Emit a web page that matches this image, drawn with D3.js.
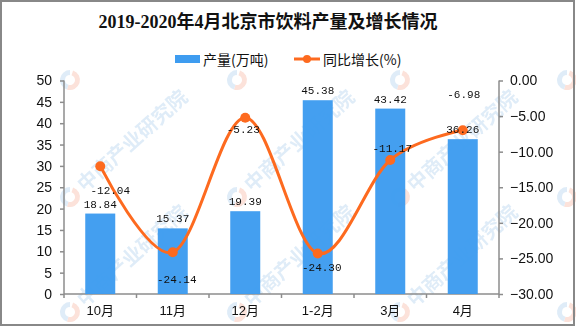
<!DOCTYPE html>
<html><head><meta charset="utf-8">
<script src="https://cdn.jsdelivr.net/npm/d3@7"></script>
<style>
html,body{margin:0;padding:0;background:#fff;}
svg{display:block;}
</style></head>
<body>
<script>
const categories = ["10月","11月","12月","1-2月","3月","4月"];
const outputValues = [18.84,15.37,19.39,45.38,43.42,36.26];
const growthValues = [-12.04,-24.14,-5.23,-24.30,-11.17,-6.98];
const leftTicks = [0,5,10,15,20,25,30,35,40,45,50];
const rightTicks = [0,-5,-10,-15,-20,-25,-30];
const title = "2019-2020年4月北京市饮料产量及增长情况";
const seriesNames = ["产量(万吨)","同比增长(%)"];

// label placement offsets (layout, not data)
const growthLabelOffset = [[10,25],[4,28],[-2,12],[4,15],[2,-11],[1,-35]];

const W = 576, H = 327;
const BLUE = "#3e9cf0", ORANGE = "#fd6a1f", AXIS = "#8c8c8c";
const svg = d3.select("body").append("svg").attr("width", W).attr("height", H);

svg.append("rect").attr("x",0).attr("y",0).attr("width",W).attr("height",H).attr("fill","#fff");

const x = d3.scaleBand().domain(categories).range([64,499]).paddingInner(0).paddingOuter(0);
const yL = d3.scaleLinear().domain([0,50]).range([294,80.5]);
const yR = d3.scaleLinear().domain([-30,0]).range([294,80.5]);

// Title
svg.append("text").attr("x",268).attr("y",28).attr("text-anchor","middle")
  .attr("font-family","'Liberation Serif','Noto Sans CJK SC',serif").attr("font-weight","bold")
  .attr("font-size",18).attr("fill","#111").text(title);

// Legend
const lg = svg.append("g").attr("font-family","'Noto Sans CJK SC',sans-serif").attr("font-size",14).attr("fill","#111");
lg.append("rect").attr("x",175).attr("y",55).attr("width",25).attr("height",8).attr("fill",BLUE);
lg.append("text").attr("x",203).attr("y",59).attr("dominant-baseline","central").text(seriesNames[0]);
lg.append("line").attr("x1",294).attr("x2",320).attr("y1",59).attr("y2",59).attr("stroke",ORANGE).attr("stroke-width",3);
lg.append("circle").attr("cx",307).attr("cy",59).attr("r",4).attr("fill",ORANGE);
lg.append("text").attr("x",323).attr("y",59).attr("dominant-baseline","central").text(seriesNames[1]);

// Watermarks (behind nothing important; drawn with low opacity)
const wm = svg.append("g").attr("opacity",0.25).attr("pointer-events","none");
const wmRows = [80,197,312], wmCols = [70,237,400,567];
wmRows.forEach((wy,ri)=>{
  wmCols.forEach((wx,ci)=>{
    const g = wm.append("g").attr("transform",`translate(${wx},${wy})`);
    g.append("path").attr("d",d3.arc()({innerRadius:5,outerRadius:10,startAngle:Math.PI*0.1,endAngle:Math.PI*1.1})).attr("fill","#f08a6a");
    g.append("path").attr("d",d3.arc()({innerRadius:5,outerRadius:10,startAngle:Math.PI*1.1,endAngle:Math.PI*2.0})).attr("fill","#7fb3e0");
    if (ri>0 && ci<3) {
      g.append("text").attr("transform","rotate(-42) translate(14,7)")
        .attr("font-family","'Noto Sans CJK SC',sans-serif").attr("font-weight","bold").attr("font-size",20)
        .attr("fill","#7fb3e0").text("中商产业研究院");
    }
  });
});

// Axes
const axisFont = "'Liberation Sans',Arial,sans-serif";
const gL = svg.append("g").attr("transform","translate(64,0)")
  .call(d3.axisLeft(yL).tickValues(leftTicks).tickSize(4).tickPadding(8).tickFormat(d3.format("d")));
const gR = svg.append("g").attr("transform","translate(499,0)")
  .call(d3.axisRight(yR).tickValues(rightTicks).tickSize(4).tickPadding(7).tickFormat(d3.format(".2f")));
[gL,gR].forEach(g=>{
  g.select(".domain").attr("stroke",AXIS).attr("stroke-width",1.5);
  g.selectAll(".tick line").attr("stroke",AXIS).attr("stroke-width",1.5);
  g.selectAll(".tick text").attr("font-family",axisFont).attr("font-size",14).attr("fill","#111");
});
gL.select(".domain").attr("d","M-0,80.5V294");
gR.select(".domain").attr("d","M0,80.5V294");

// x axis
const gX = svg.append("g");
gX.append("line").attr("x1",64).attr("x2",499).attr("y1",294).attr("y2",294).attr("stroke",AXIS).attr("stroke-width",1.5);
const boundaries = categories.map(c=>x(c)).concat([x(categories[categories.length-1])+x.bandwidth()]);
gX.selectAll("line.tk").data(boundaries).enter().append("line").attr("class","tk")
  .attr("x1",d=>d).attr("x2",d=>d).attr("y1",294).attr("y2",298).attr("stroke",AXIS).attr("stroke-width",1.5);
gX.selectAll("text").data(categories).enter().append("text")
  .attr("x",d=>x(d)+x.bandwidth()/2).attr("y",310).attr("text-anchor","middle").attr("dominant-baseline","central")
  .attr("font-family","'Liberation Sans','Noto Sans CJK SC',sans-serif").attr("font-size",13).attr("fill","#111").text(d=>d);

// Bars
const barW = 30;
svg.append("g").selectAll("rect").data(outputValues).enter().append("rect")
  .attr("x",(d,i)=>x(categories[i])+x.bandwidth()/2-barW/2)
  .attr("y",d=>yL(d)).attr("width",barW).attr("height",d=>yL(0)-yL(d)).attr("fill",BLUE).attr("fill-opacity",0.97);

// Line
const line = d3.line().x((d,i)=>x(categories[i])+x.bandwidth()/2).y(d=>yR(d)).curve(d3.curveCardinal.tension(0));
svg.append("path").datum(growthValues).attr("d",line).attr("fill","none").attr("stroke",ORANGE).attr("stroke-width",3);
svg.append("g").selectAll("circle").data(growthValues).enter().append("circle")
  .attr("cx",(d,i)=>x(categories[i])+x.bandwidth()/2).attr("cy",d=>yR(d)).attr("r",5).attr("fill",ORANGE);

// Data labels
const lblFont = "'Liberation Mono','DejaVu Sans Mono',monospace";
svg.append("g").selectAll("text").data(outputValues).enter().append("text")
  .attr("x",(d,i)=>x(categories[i])+x.bandwidth()/2).attr("y",d=>yL(d)-9)
  .attr("text-anchor","middle").attr("dominant-baseline","central")
  .attr("font-family",lblFont).attr("font-size",11).attr("fill","#111").text(d=>d.toFixed(2));
svg.append("g").selectAll("text").data(growthValues).enter().append("text")
  .attr("x",(d,i)=>x(categories[i])+x.bandwidth()/2+growthLabelOffset[i][0]).attr("y",(d,i)=>yR(d)+growthLabelOffset[i][1])
  .attr("text-anchor","middle").attr("dominant-baseline","central")
  .attr("font-family",lblFont).attr("font-size",11).attr("fill","#111").text(d=>d.toFixed(2));

// Border
svg.append("rect").attr("x",1).attr("y",1).attr("width",W-3).attr("height",H-3)
  .attr("fill","none").attr("stroke","#888").attr("stroke-width",2);
</script>
</body></html>
